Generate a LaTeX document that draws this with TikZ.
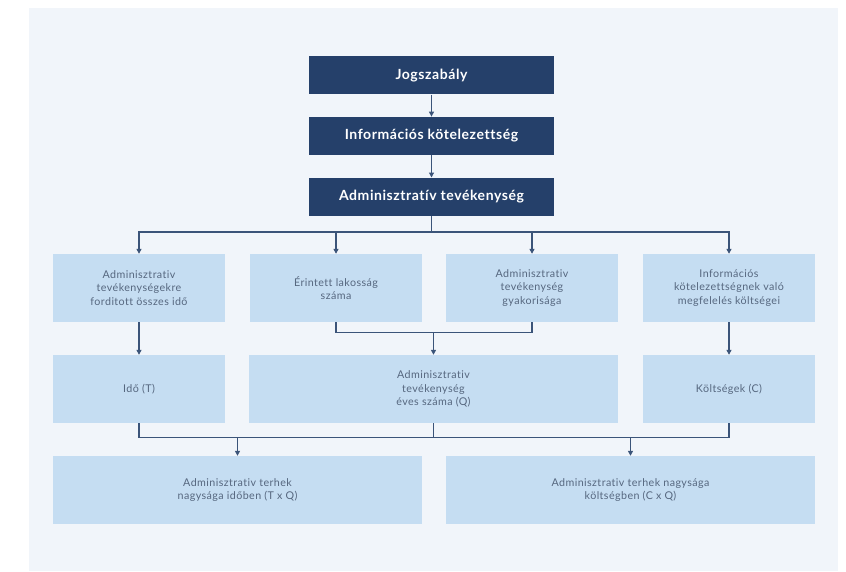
\documentclass[tikz,border=0pt]{standalone}
\usepackage{fontspec}
\setmainfont[LetterSpace=4,Ligatures=NoCommon]{Lato}
\usetikzlibrary{arrows.meta}
\definecolor{navy}{HTML}{25406A}
\definecolor{lightbox}{HTML}{C5DDF2}
\definecolor{bgcol}{HTML}{F1F5FA}
\definecolor{linecol}{HTML}{3B5479}
\definecolor{txtcol}{HTML}{56677F}
\tikzset{
  darkbox/.style={rectangle, fill=navy, text=white, inner sep=0pt, minimum width=245pt, minimum height=38.4pt, font=\fontsize{14}{16}\selectfont\bfseries, align=center},
  lbox/.style={rectangle, fill=lightbox, text=txtcol, inner sep=0pt, minimum height=68pt, font=\fontsize{10.7}{13.4}\selectfont, align=center},
  conn/.style={draw=linecol, line width=1.2pt},
  arr/.style={conn, -{Triangle[length=5pt,width=5pt]}}
}
\begin{document}
\begin{tikzpicture}[x=1pt,y=-1pt]
\useasboundingbox (0,0) rectangle (846,571);
\fill[white] (0,0) rectangle (846,571);
\fill[bgcol] (29,7.5) rectangle (838,571);
% top boxes
\node[darkbox] (j) at (431.5,75.2) {Jogszabály};
\node[darkbox] (i) at (431.5,136) {Információs kötelezettség};
\node[darkbox] (a) at (431.5,196.9) {Adminisztratív tevékenység};
% row 2
\node[lbox, minimum width=172pt] (b1) at (139,288) {Adminisztrativ\\tevékenységekre\\forditott összes idő};
\node[lbox, minimum width=172pt] (b2) at (336,288) {Érintett lakosság\\száma};
\node[lbox, minimum width=172pt] (b3) at (532,288) {Adminisztrativ\\tevékenység\\gyakorisága};
\node[lbox, minimum width=172pt] (b4) at (729,288) {Információs\\kötelezettségnek való\\megfelelés költségei};
% row 3
\node[lbox, minimum width=172pt] (t) at (139,389) {Idő (T)};
\node[lbox, minimum width=369pt] (q) at (433.5,389) {Adminisztrativ\\tevékenység\\éves száma (Q)};
\node[lbox, minimum width=172pt] (c) at (729,389) {Költségek (C)};
% row 4
\node[lbox, minimum width=369pt] (tq) at (237.5,490) {Adminisztrativ terhek\\nagysága időben (T x Q)};
\node[lbox, minimum width=369pt] (cq) at (630.5,490) {Adminisztrativ terhek nagysága\\költségben (C x Q)};
% connectors top
\draw[arr] (j) -- (i);
\draw[arr] (i) -- (a);
\coordinate (f1) at (431.5,232);
\draw[conn] (a) -- (f1);
\draw[arr] (f1) -| (b1);
\draw[arr] (f1) -| (b2);
\draw[arr] (f1) -| (b3);
\draw[arr] (f1) -| (b4);
% row2 -> row3
\coordinate (m1) at (433.5,332.3);
\draw[conn] (b2) |- (m1);
\draw[conn] (b3) |- (m1);
\draw[arr] (m1) -- (q);
\draw[arr] (b1) -- (t);
\draw[arr] (b4) -- (c);
% row3 -> row4
\coordinate (m2) at (237.5,437.3);
\coordinate (m3) at (630.5,437.3);
\draw[conn] (t) |- (m2);
\draw[conn] (q) |- (m2);
\draw[conn] (q) |- (m3);
\draw[conn] (c) |- (m3);
\draw[arr] (m2) -- (tq);
\draw[arr] (m3) -- (cq);
\end{tikzpicture}
\end{document}
